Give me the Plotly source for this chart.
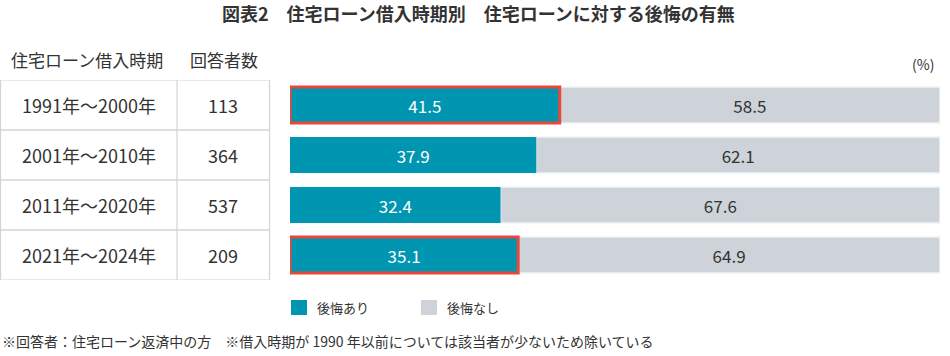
import plotly.graph_objects as go

# ---- data ----
periods = ["1991年～2000年", "2001年～2010年", "2011年～2020年", "2021年～2024年"]
respondents = [113, 364, 537, 209]
regret_yes = [41.5, 37.9, 32.4, 35.1]
regret_no = [58.5, 62.1, 67.6, 64.9]
highlight = [True, False, False, True]
series_names = ["後悔あり", "後悔なし"]

title_text = "図表2　住宅ローン借入時期別　住宅ローンに対する後悔の有無"
col_headers = ["住宅ローン借入時期", "回答者数"]
unit_text = "(%)"
footnote = "※回答者：住宅ローン返済中の方　※借入時期が 1990 年以前については該当者が少ないため除いている"

# ---- style ----
W, H = 950, 356
FONT = "Noto Sans CJK JP"
TEAL = "#0096b1"
GRAY = "#cdd3d9"
RED = "#e8473a"
TXT = "#333333"
LINE = "#d4d4d4"


def px(x):
    return x / W


def py(y):
    return 1 - y / H


fig = go.Figure()

# gray (no regret) first so the teal + red borders sit on top
fig.add_trace(go.Bar(
    y=periods, x=regret_no, base=regret_yes, orientation="h",
    name=series_names[1], showlegend=False,
    marker=dict(color=GRAY, line=dict(color="#eef3f5", width=1.5)),
    text=regret_no, texttemplate="%{x:.1f}", textposition="inside",
    insidetextanchor="middle", textangle=0,
    textfont=dict(color=TXT, size=17, family=FONT),
    hoverinfo="skip",
))
fig.add_trace(go.Bar(
    y=periods, x=regret_yes, base=[0] * len(regret_yes), orientation="h",
    name=series_names[0], showlegend=False,
    marker=dict(color=TEAL,
                line=dict(color=[RED if h else "rgba(0,0,0,0)" for h in highlight],
                          width=[3 if h else 0 for h in highlight])),
    text=regret_yes, texttemplate="%{x:.1f}", textposition="inside",
    insidetextanchor="middle", textangle=0,
    textfont=dict(color="white", size=17, family=FONT),
    hoverinfo="skip",
))

shapes = []
annotations = []

# table grid
tx0, tx1, tx2 = px(0.5), px(177), px(269.5)
for i in range(len(periods) + 1):
    yv = i - 0.5
    shapes.append(dict(type="line", xref="paper", yref="y", x0=tx0, x1=tx2, y0=yv, y1=yv,
                       line=dict(color=LINE, width=1.5 if 0 < i < len(periods) else 1.2)))
for xv in (tx0, tx1, tx2):
    shapes.append(dict(type="line", xref="paper", yref="y", x0=xv, x1=xv, y0=-0.5, y1=len(periods) - 0.5,
                       line=dict(color=LINE, width=1.2)))

for p, n in zip(periods, respondents):
    annotations.append(dict(text=p, xref="paper", yref="y", x=px(88.5), y=p, showarrow=False,
                            xanchor="center", yanchor="middle",
                            font=dict(size=18, color=TXT, family=FONT)))
    annotations.append(dict(text=str(n), xref="paper", yref="y", x=px(223), y=p, showarrow=False,
                            xanchor="center", yanchor="middle",
                            font=dict(size=18, color=TXT, family=FONT)))

# headers
annotations.append(dict(text=col_headers[0], xref="paper", yref="paper", x=px(86.5), y=py(60),
                        showarrow=False, xanchor="center", yanchor="middle",
                        font=dict(size=17, color=TXT, family=FONT)))
annotations.append(dict(text=col_headers[1], xref="paper", yref="paper", x=px(224), y=py(60),
                        showarrow=False, xanchor="center", yanchor="middle",
                        font=dict(size=17, color=TXT, family=FONT)))
annotations.append(dict(text=unit_text, xref="paper", yref="paper", x=px(936), y=py(64),
                        showarrow=False, xanchor="right", yanchor="middle",
                        font=dict(size=14, color=TXT, family=FONT)))

# title
annotations.append(dict(text="<b>" + title_text + "</b>", xref="paper", yref="paper", x=px(479), y=py(13),
                        showarrow=False, xanchor="center", yanchor="middle",
                        font=dict(size=18, color=TXT, family=FONT)))

# legend (manual)
legend_items = [(series_names[0], TEAL, 291), (series_names[1], GRAY, 421)]
for name, col, lx in legend_items:
    shapes.append(dict(type="rect", xref="paper", yref="paper", x0=px(lx), x1=px(lx + 16),
                       y0=py(315), y1=py(300), fillcolor=col, line=dict(width=0)))
    annotations.append(dict(text=name, xref="paper", yref="paper", x=px(lx + 24), y=py(307.5),
                            showarrow=False, xanchor="left", yanchor="middle",
                            font=dict(size=13, color=TXT, family=FONT)))

# footnote
annotations.append(dict(text=footnote, xref="paper", yref="paper", x=px(0), y=py(341),
                        showarrow=False, xanchor="left", yanchor="middle",
                        font=dict(size=14, color=TXT, family=FONT)))

fig.update_layout(
    width=W, height=H,
    margin=dict(l=0, r=0, t=0, b=0),
    paper_bgcolor="white", plot_bgcolor="white",
    barmode="overlay", bargap=0.28,
    showlegend=False,
    uniformtext=dict(mode=False),
    xaxis=dict(domain=[px(290), px(940)], range=[0, 100], visible=False, fixedrange=True),
    yaxis=dict(domain=[py(280), py(80)], range=[len(periods) - 0.5, -0.5], visible=False,
               type="category", categoryorder="array", categoryarray=periods, fixedrange=True),
    shapes=shapes,
    annotations=annotations,
    font=dict(family=FONT, color=TXT),
)

fig.write_html("out.html", config={"displayModeBar": False},
               post_script="document.body.style.margin='0';document.body.style.overflow='hidden';")
